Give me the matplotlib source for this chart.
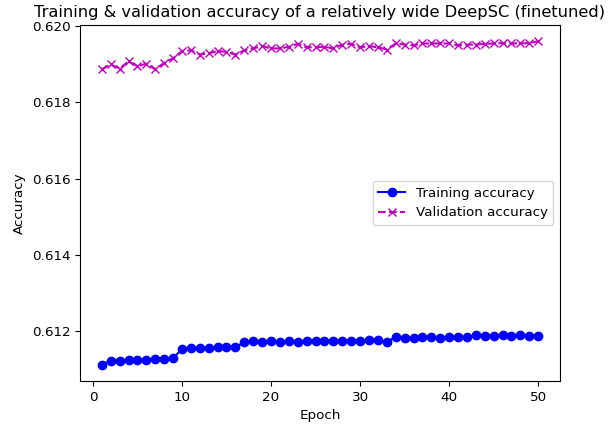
import matplotlib
matplotlib.use("Agg")
import matplotlib.pyplot as plt

epochs = list(range(1, 51))
train_acc = [0.61111, 0.61122, 0.61122, 0.61124, 0.61124, 0.61124, 0.61127, 0.61127, 0.61129, 0.61152,
             0.61155, 0.61155, 0.61155, 0.61157, 0.61157, 0.61157, 0.61170, 0.61173, 0.61170, 0.61173,
             0.61170, 0.61173, 0.61170, 0.61173, 0.61173, 0.61173, 0.61173, 0.61173, 0.61173, 0.61173,
             0.61175, 0.61175, 0.61172, 0.61183, 0.61181, 0.61181, 0.61183, 0.61183, 0.61181, 0.61183,
             0.61183, 0.61183, 0.61190, 0.61187, 0.61187, 0.61190, 0.61187, 0.61190, 0.61187, 0.61187]
val_acc = [0.61887, 0.61900, 0.61889, 0.61908, 0.61895, 0.61902, 0.61887, 0.61904, 0.61916, 0.61935,
           0.61937, 0.61926, 0.61929, 0.61935, 0.61933, 0.61926, 0.61937, 0.61942, 0.61948, 0.61942,
           0.61942, 0.61946, 0.61954, 0.61945, 0.61945, 0.61946, 0.61942, 0.61952, 0.61954, 0.61945,
           0.61948, 0.61945, 0.61939, 0.61955, 0.61952, 0.61950, 0.61955, 0.61955, 0.61955, 0.61955,
           0.61950, 0.61952, 0.61952, 0.61954, 0.61955, 0.61956, 0.61955, 0.61955, 0.61956, 0.61961]

plt.rcParams['font.size'] = 9.7

fig = plt.figure(figsize=(6.13, 4.25), dpi=100)
ax = fig.add_subplot(111)
fig.subplots_adjust(left=80/613, right=560/613, top=1-25/425, bottom=1-381/425)

ax.plot(epochs, train_acc, 'bo-', label='Training accuracy')
ax.plot(epochs, val_acc, 'mx--', label='Validation accuracy')
ax.set_title('Training & validation accuracy of a relatively wide DeepSC (finetuned)', fontsize=11.7)
ax.set_xlabel('Epoch')
ax.set_ylabel('Accuracy')
ax.legend(loc='center right')

fig.savefig('out.png', dpi=100)
